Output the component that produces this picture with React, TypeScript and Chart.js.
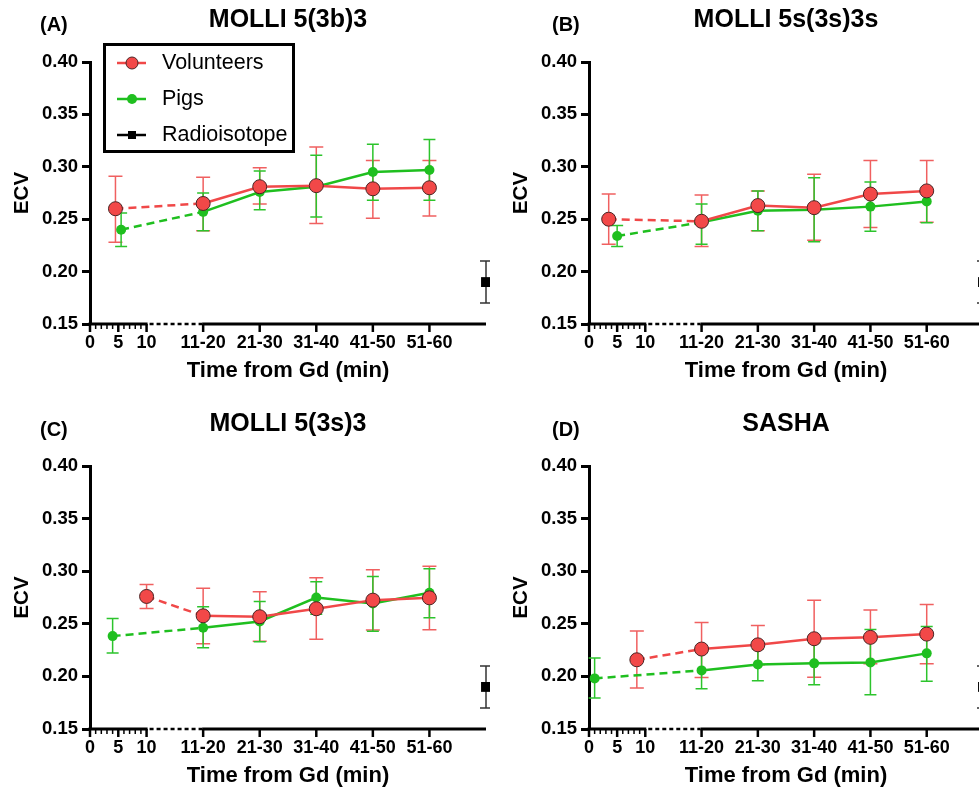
import React, { useEffect, useRef } from 'react';
import { Chart, registerables } from 'chart.js';

Chart.register(...registerables);

const FONT = "'Liberation Sans', Arial, Helvetica, sans-serif";

// ---------- axis definitions ----------
const EARLY_TICKS = [0, 5, 10];
const EARLY_MINOR_TICKS = [0, 1, 2, 3, 4, 5, 6, 7, 8, 9, 10];
const CATEGORY_POSITIONS = [20, 30, 40, 50, 60];
const CATEGORY_LABELS = ['11-20', '21-30', '31-40', '41-50', '51-60'];
const X_MAX = 70;
const Y_TICKS = [0.15, 0.2, 0.25, 0.3, 0.35, 0.4];

const SERIES_NAMES = ['Volunteers', 'Pigs', 'Radioisotope'];
const PANEL_LETTERS = ['(A)', '(B)', '(C)', '(D)'];
const PANEL_TITLES = ['MOLLI 5(3b)3', 'MOLLI 5s(3s)3s', 'MOLLI 5(3s)3', 'SASHA'];
const X_TITLE = 'Time from Gd (min)';
const Y_TITLE = 'ECV';

// ---------- Radioisotope reference ----------
const RADIO_X = [70];
const RADIO_MEAN = [0.19];
const RADIO_LO = [0.17];
const RADIO_HI = [0.21];

// ---------- (A) MOLLI 5(3b)3 ----------
const A_VOL_X = [4.5, 20, 30, 40, 50, 60];
const A_VOL_MEAN = [0.26, 0.265, 0.281, 0.282, 0.279, 0.28];
const A_VOL_LO = [0.228, 0.239, 0.2645, 0.246, 0.251, 0.253];
const A_VOL_HI = [0.291, 0.29, 0.299, 0.319, 0.306, 0.306];
const A_PIG_X = [5.5, 20, 30, 40, 50, 60];
const A_PIG_MEAN = [0.24, 0.257, 0.276, 0.281, 0.295, 0.297];
const A_PIG_LO = [0.224, 0.239, 0.259, 0.252, 0.268, 0.268];
const A_PIG_HI = [0.256, 0.275, 0.296, 0.311, 0.3215, 0.326];

// ---------- (B) MOLLI 5s(3s)3s ----------
const B_VOL_X = [3.5, 20, 30, 40, 50, 60];
const B_VOL_MEAN = [0.25, 0.248, 0.263, 0.261, 0.274, 0.277];
const B_VOL_LO = [0.226, 0.224, 0.239, 0.23, 0.242, 0.247];
const B_VOL_HI = [0.274, 0.273, 0.277, 0.293, 0.306, 0.306];
const B_PIG_X = [5, 20, 30, 40, 50, 60];
const B_PIG_MEAN = [0.234, 0.247, 0.258, 0.259, 0.262, 0.267];
const B_PIG_LO = [0.224, 0.226, 0.239, 0.2285, 0.2385, 0.2467];
const B_PIG_HI = [0.244, 0.2645, 0.277, 0.2896, 0.2855, 0.2795];

// ---------- (C) MOLLI 5(3s)3 ----------
const C_VOL_X = [10, 20, 30, 40, 50, 60];
const C_VOL_MEAN = [0.276, 0.2576, 0.2567, 0.2643, 0.2725, 0.2747];
const C_VOL_LO = [0.2646, 0.231, 0.2333, 0.2352, 0.244, 0.2443];
const C_VOL_HI = [0.2874, 0.2839, 0.2804, 0.2937, 0.3013, 0.3048];
const C_PIG_X = [4, 20, 30, 40, 50, 60];
const C_PIG_MEAN = [0.2383, 0.2462, 0.2522, 0.275, 0.2693, 0.2795];
const C_PIG_LO = [0.2222, 0.2272, 0.233, 0.259, 0.243, 0.2557];
const C_PIG_HI = [0.2551, 0.2662, 0.2712, 0.29, 0.295, 0.3023];

// ---------- (D) SASHA ----------
const D_VOL_X = [8.5, 20, 30, 40, 50, 60];
const D_VOL_MEAN = [0.2158, 0.226, 0.23, 0.2358, 0.2371, 0.2402];
const D_VOL_LO = [0.1889, 0.199, 0.211, 0.1991, 0.212, 0.212];
const D_VOL_HI = [0.2431, 0.2512, 0.2484, 0.2725, 0.263, 0.2684];
const D_PIG_X = [1, 20, 30, 40, 50, 60];
const D_PIG_MEAN = [0.1981, 0.2057, 0.2114, 0.2124, 0.2133, 0.2219];
const D_PIG_LO = [0.1794, 0.1883, 0.1959, 0.1921, 0.1826, 0.1953];
const D_PIG_HI = [0.2174, 0.223, 0.226, 0.232, 0.2447, 0.2475];

const PANEL_DATA = [
  { vol: [A_VOL_X, A_VOL_MEAN, A_VOL_LO, A_VOL_HI], pig: [A_PIG_X, A_PIG_MEAN, A_PIG_LO, A_PIG_HI] },
  { vol: [B_VOL_X, B_VOL_MEAN, B_VOL_LO, B_VOL_HI], pig: [B_PIG_X, B_PIG_MEAN, B_PIG_LO, B_PIG_HI] },
  { vol: [C_VOL_X, C_VOL_MEAN, C_VOL_LO, C_VOL_HI], pig: [C_PIG_X, C_PIG_MEAN, C_PIG_LO, C_PIG_HI] },
  { vol: [D_VOL_X, D_VOL_MEAN, D_VOL_LO, D_VOL_HI], pig: [D_PIG_X, D_PIG_MEAN, D_PIG_LO, D_PIG_HI] },
];

// ---------- styles ----------
const RED_LINE = '#f04848';
const RED_FILL = '#f24848';
const RED_ERR = '#f06060';
const RED_EDGE = '#4a2424';
const GREEN = '#1fbf1f';
const GREEN_ERR = '#2cc42c';
const BLACK = '#000000';
const RADIO_ERR = '#333333';

// ---------- panel layout (pixels within each canvas) ----------
const LAYOUT = [
  { left: 0, top: 0, width: 490, height: 390, areaLeft: 90, areaTop: 62, areaBottom: 324, areaRight: 486, letterX: 40, letterY: 25, titleY: 20, legend: true },
  { left: 490, top: 0, width: 505, height: 390, areaLeft: 99, areaTop: 62, areaBottom: 324, areaRight: 493, letterX: 62, letterY: 25, titleY: 20, legend: false },
  { left: 0, top: 390, width: 490, height: 410, areaLeft: 90, areaTop: 76, areaBottom: 339, areaRight: 486, letterX: 40, letterY: 40, titleY: 34, legend: false },
  { left: 490, top: 390, width: 505, height: 410, areaLeft: 99, areaTop: 76, areaBottom: 339, areaRight: 493, letterX: 62, letterY: 40, titleY: 34, legend: false },
];
const X_AXIS_HEIGHT = 66;

function xLabel(v: number): string {
  if (EARLY_TICKS.includes(v)) return String(v);
  const i = CATEGORY_POSITIONS.indexOf(v);
  return i >= 0 ? CATEGORY_LABELS[i] : '';
}

const errorBarPlugin = {
  id: 'errorBars',
  beforeDatasetsDraw(chart: any) {
    const { ctx, scales } = chart;
    const x = scales.x;
    const y = scales.y;
    chart.data.datasets.forEach((ds: any) => {
      if (!ds.errLo) return;
      ctx.save();
      ctx.strokeStyle = ds.errColor;
      ctx.lineWidth = 1.5;
      const cap = ds.errCap;
      ds.data.forEach((p: any, i: number) => {
        const px = x.getPixelForValue(p.x);
        const yl = y.getPixelForValue(ds.errLo[i]);
        const yh = y.getPixelForValue(ds.errHi[i]);
        ctx.beginPath();
        ctx.moveTo(px, yl);
        ctx.lineTo(px, yh);
        ctx.moveTo(px - cap, yl);
        ctx.lineTo(px + cap, yl);
        ctx.moveTo(px - cap, yh);
        ctx.lineTo(px + cap, yh);
        ctx.stroke();
      });
      ctx.restore();
    });
  },
};

const brokenAxisPlugin = {
  id: 'brokenAxis',
  afterDraw(chart: any) {
    const { ctx, chartArea } = chart;
    const x = chart.scales.x;
    const yb = chartArea.bottom;
    const p0 = x.getPixelForValue(0);
    const p10 = x.getPixelForValue(10);
    const p20 = x.getPixelForValue(20);
    const pEnd = x.getPixelForValue(X_MAX);
    ctx.save();
    ctx.strokeStyle = BLACK;
    ctx.lineWidth = 3;
    ctx.beginPath();
    ctx.moveTo(p0 - 1.5, yb);
    ctx.lineTo(p10 + 1, yb);
    ctx.moveTo(p20 - 1, yb);
    ctx.lineTo(pEnd, yb);
    ctx.stroke();
    ctx.setLineDash([4, 3]);
    ctx.lineWidth = 2.5;
    ctx.beginPath();
    ctx.moveTo(p10 + 3, yb);
    ctx.lineTo(p20 - 1, yb);
    ctx.stroke();
    ctx.setLineDash([]);
    EARLY_MINOR_TICKS.forEach((v) => {
      const px = x.getPixelForValue(v);
      const major = EARLY_TICKS.includes(v);
      ctx.lineWidth = major ? 2.5 : 1.5;
      ctx.beginPath();
      ctx.moveTo(px, yb);
      ctx.lineTo(px, yb + (major ? 8 : 5));
      ctx.stroke();
    });
    CATEGORY_POSITIONS.forEach((v) => {
      const px = x.getPixelForValue(v);
      ctx.lineWidth = 2.5;
      ctx.beginPath();
      ctx.moveTo(px, yb);
      ctx.lineTo(px, yb + 8);
      ctx.stroke();
    });
    ctx.restore();
  },
};

const headerPlugin = {
  id: 'header',
  afterDraw(chart: any, _args: any, opts: any) {
    const { ctx, chartArea } = chart;
    ctx.save();
    ctx.fillStyle = BLACK;
    ctx.textBaseline = 'middle';
    ctx.textAlign = 'left';
    ctx.font = `bold 20px ${FONT}`;
    ctx.fillText(opts.letter, opts.letterX, opts.letterY);
    ctx.textAlign = 'center';
    ctx.font = `bold 25px ${FONT}`;
    ctx.fillText(opts.title, (chartArea.left + chartArea.right) / 2, opts.titleY);
    ctx.restore();
  },
};

const boxLegendPlugin = {
  id: 'boxLegend',
  afterDraw(chart: any, _args: any, opts: any) {
    if (!opts || !opts.show) return;
    const { ctx } = chart;
    ctx.save();
    ctx.strokeStyle = BLACK;
    ctx.lineWidth = 3;
    ctx.strokeRect(104.5, 44.5, 189, 107);
    const rows = [63, 99, 135];
    const colors = [RED_LINE, GREEN, BLACK];
    rows.forEach((ry, i) => {
      ctx.strokeStyle = colors[i];
      ctx.lineWidth = 2.5;
      ctx.beginPath();
      ctx.moveTo(117, ry);
      ctx.lineTo(146, ry);
      ctx.stroke();
      if (i === 0) {
        ctx.beginPath();
        ctx.arc(132, ry, 6, 0, Math.PI * 2);
        ctx.fillStyle = RED_FILL;
        ctx.fill();
        ctx.lineWidth = 1;
        ctx.strokeStyle = RED_EDGE;
        ctx.stroke();
      } else if (i === 1) {
        ctx.beginPath();
        ctx.arc(132, ry, 5, 0, Math.PI * 2);
        ctx.fillStyle = GREEN;
        ctx.fill();
      } else {
        ctx.fillStyle = BLACK;
        ctx.fillRect(128, ry - 4, 8, 8);
      }
      ctx.fillStyle = BLACK;
      ctx.font = `21.5px ${FONT}`;
      ctx.textAlign = 'left';
      ctx.textBaseline = 'middle';
      ctx.fillText(SERIES_NAMES[i], 162, ry);
    });
    ctx.restore();
  },
};

function toPoints(xs: number[], ys: number[]) {
  return xs.map((x, i) => ({ x, y: ys[i] }));
}

function Panel({ index }: { index: number }) {
  const ref = useRef<HTMLCanvasElement | null>(null);
  const L = LAYOUT[index];
  useEffect(() => {
    if (!ref.current) return;
    const d = PANEL_DATA[index];
    const dash = (ctx: any) => (ctx.p0DataIndex === 0 ? [8, 5] : undefined);
    const chart = new Chart(ref.current, {
      type: 'line',
      data: {
        datasets: [
          {
            label: SERIES_NAMES[0],
            data: toPoints(d.vol[0], d.vol[1]),
            errLo: d.vol[2],
            errHi: d.vol[3],
            errColor: RED_ERR,
            errCap: 7,
            borderColor: RED_LINE,
            backgroundColor: RED_FILL,
            borderWidth: 2.5,
            pointRadius: 7,
            pointHoverRadius: 7,
            pointBackgroundColor: RED_FILL,
            pointBorderColor: RED_EDGE,
            pointBorderWidth: 1,
            segment: { borderDash: dash },
            tension: 0,
          } as any,
          {
            label: SERIES_NAMES[1],
            data: toPoints(d.pig[0], d.pig[1]),
            errLo: d.pig[2],
            errHi: d.pig[3],
            errColor: GREEN_ERR,
            errCap: 6,
            borderColor: GREEN,
            backgroundColor: GREEN,
            borderWidth: 2.5,
            pointRadius: 5,
            pointHoverRadius: 5,
            pointBackgroundColor: GREEN,
            pointBorderColor: GREEN,
            pointBorderWidth: 0,
            segment: { borderDash: dash },
            tension: 0,
          } as any,
          {
            label: SERIES_NAMES[2],
            data: toPoints(RADIO_X, RADIO_MEAN),
            errLo: RADIO_LO,
            errHi: RADIO_HI,
            errColor: RADIO_ERR,
            errCap: 6,
            showLine: false,
            pointStyle: 'rect',
            pointRadius: 7,
            pointHoverRadius: 7,
            pointBackgroundColor: BLACK,
            pointBorderColor: BLACK,
            pointBorderWidth: 0,
            clip: false,
          } as any,
        ],
      },
      options: {
        animation: false,
        responsive: false,
        events: [],
        layout: {
          autoPadding: false,
          padding: {
            left: 0,
            top: L.areaTop,
            right: L.width - L.areaRight,
            bottom: L.height - L.areaBottom - X_AXIS_HEIGHT,
          },
        },
        scales: {
          x: {
            type: 'linear',
            min: 0,
            max: X_MAX,
            afterBuildTicks: (s: any) => {
              s.ticks = [...EARLY_TICKS, ...CATEGORY_POSITIONS].map((v) => ({ value: v }));
            },
            afterFit: (s: any) => {
              s.height = X_AXIS_HEIGHT;
              s.paddingLeft = 0;
              s.paddingRight = 0;
            },
            ticks: {
              autoSkip: false,
              maxRotation: 0,
              minRotation: 0,
              padding: 8,
              color: BLACK,
              font: { family: FONT, size: 18, weight: 'bold' },
              callback: (v: any) => xLabel(Number(v)),
            },
            grid: { display: false, drawTicks: false },
            border: { display: false },
            title: {
              display: true,
              text: X_TITLE,
              color: BLACK,
              font: { family: FONT, size: 22, weight: 'bold' },
              padding: { top: 0, bottom: 6 },
            },
          },
          y: {
            type: 'linear',
            min: 0.15,
            max: 0.4,
            afterBuildTicks: (s: any) => {
              s.ticks = Y_TICKS.map((v) => ({ value: v }));
            },
            afterFit: (s: any) => {
              s.width = L.areaLeft;
              s.paddingTop = 0;
              s.paddingBottom = 0;
            },
            ticks: {
              padding: 4,
              color: BLACK,
              font: { family: FONT, size: 18.5, weight: 'bold' },
              callback: (v: any) => Number(v).toFixed(2),
            },
            grid: {
              drawOnChartArea: false,
              drawTicks: true,
              tickLength: 8,
              tickWidth: 3,
              tickColor: BLACK,
            },
            border: { display: true, width: 3, color: BLACK },
            title: {
              display: true,
              text: Y_TITLE,
              color: BLACK,
              font: { family: FONT, size: 20.5, weight: 'bold' },
              padding: { top: L.areaLeft - 80, bottom: 0 },
            },
          },
        },
        plugins: {
          legend: { display: false },
          tooltip: { enabled: false },
          header: {
            letter: PANEL_LETTERS[index],
            title: PANEL_TITLES[index],
            letterX: L.letterX,
            letterY: L.letterY,
            titleY: L.titleY,
          },
          boxLegend: { show: L.legend },
        } as any,
      },
      plugins: [errorBarPlugin, brokenAxisPlugin, headerPlugin, boxLegendPlugin],
    } as any);
    return () => chart.destroy();
  }, [index]);
  return (
    <canvas
      ref={ref}
      width={L.width}
      height={L.height}
      style={{ position: 'absolute', left: L.left, top: L.top, width: L.width, height: L.height }}
    />
  );
}

export default function App() {
  return (
    <div
      style={{
        position: 'absolute',
        left: 0,
        top: 0,
        width: 979,
        height: 787,
        overflow: 'hidden',
        background: '#ffffff',
      }}
    >
      {[0, 1, 2, 3].map((i) => (
        <Panel key={i} index={i} />
      ))}
    </div>
  );
}
